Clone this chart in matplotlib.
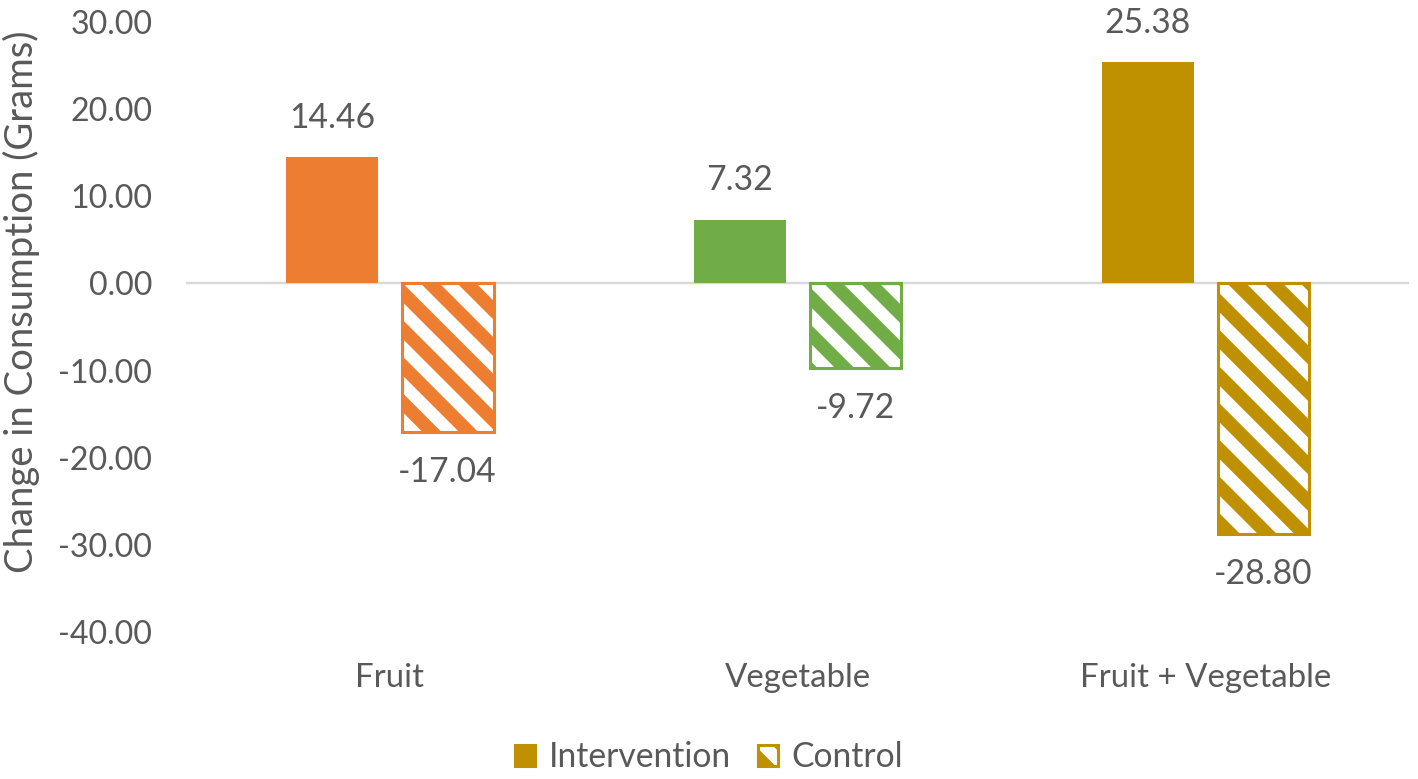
import matplotlib
matplotlib.use('Agg')
from matplotlib import pyplot as plt
from matplotlib.patches import Patch
import numpy as np

categories = ['Fruit', 'Vegetable', 'Fruit + Vegetable']
intervention = [14.46, 7.32, 25.38]
control = [-17.04, -9.72, -28.80]
colors = ['#ED7D31', '#70AD47', '#BF9000']
yticks = [30, 20, 10, 0, -10, -20, -30, -40]

TEXT = '#595959'
plt.rcParams['font.family'] = ['Lato', 'DejaVu Sans']
plt.rcParams['hatch.linewidth'] = 4.4

DPI = 220
fig = plt.figure(figsize=(1418 / DPI, 779 / DPI), dpi=DPI)
ax = fig.add_axes([0.131, 0.1887, 0.863, 0.7831])

x = np.arange(len(categories))
w = 0.225
off = 0.142

for i in range(len(categories)):
    ax.bar(x[i] - off, intervention[i], w, color=colors[i], zorder=3)
    ax.bar(x[i] + off, control[i], w, facecolor='white', edgecolor=colors[i],
           hatch='\\\\', linewidth=1.0, zorder=3)
    ax.annotate('%.2f' % intervention[i], (x[i] - off, intervention[i]),
                xytext=(0, 13), textcoords='offset points', ha='center',
                va='center', fontsize=11, color=TEXT)
    ax.annotate('%.2f' % control[i], (x[i] + off, control[i]),
                xytext=(0, -13), textcoords='offset points', ha='center',
                va='center', fontsize=11, color=TEXT)

ax.axhline(0, color='#D9D9D9', linewidth=0.8, zorder=2)

ax.set_xlim(-0.5, 2.5)
ax.set_ylim(-40, 30)
ax.set_yticks(yticks)
ax.set_yticklabels(['%.2f' % v for v in yticks])
ax.set_xticks(x)
ax.set_xticklabels(categories)
ax.tick_params(axis='both', length=0, labelcolor=TEXT)
ax.tick_params(axis='y', pad=11, labelsize=10.5)
ax.tick_params(axis='x', pad=10, labelsize=10.8)
for s in ax.spines.values():
    s.set_visible(False)

ax.set_ylabel('Change in Consumption (Grams)', fontsize=12.5, color=TEXT)
ax.yaxis.set_label_coords(-0.119, 0.541)

handles = [Patch(facecolor=colors[2], edgecolor=colors[2]),
           Patch(facecolor='white', edgecolor=colors[2], hatch='\\\\', linewidth=1.0)]
fig.legend(handles, ['Intervention', 'Control'], loc='center',
           bbox_to_anchor=(0.5, 0.028), ncol=2, frameon=False, fontsize=11,
           labelcolor=TEXT, handlelength=0.6, handleheight=0.6,
           handletextpad=0.4, columnspacing=0.8)

fig.savefig('out.png', dpi=DPI)
